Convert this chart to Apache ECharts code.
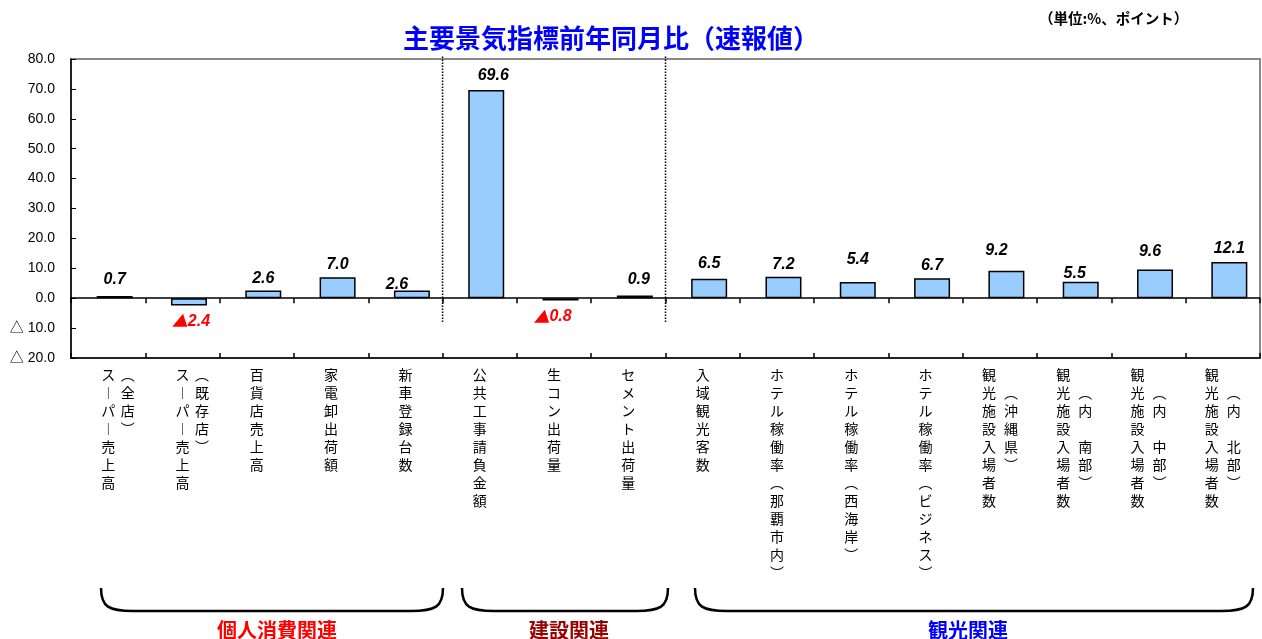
<!DOCTYPE html>
<html><head><meta charset="utf-8">
<script src="https://cdn.jsdelivr.net/npm/echarts@6/dist/echarts.min.js"></script>
<style>html,body{margin:0;padding:0;background:#fff}#c{width:1262px;height:639px}</style>
</head><body><div id="c"></div>
<script>
// ---------- data ----------
const categories = ['スーパー売上高（全店）','スーパー売上高（既存店）','百貨店売上高','家電卸出荷額','新車登録台数','公共工事請負金額','生コン出荷量','セメント出荷量','入域観光客数','ホテル稼働率（那覇市内）','ホテル稼働率（西海岸）','ホテル稼働率（ビジネス）','観光施設入場者数（沖縄県）','観光施設入場者数（内南部）','観光施設入場者数（内中部）','観光施設入場者数（内北部）'];
const mainLabels = ['スーパー売上高','スーパー売上高','百貨店売上高','家電卸出荷額','新車登録台数','公共工事請負金額','生コン出荷量','セメント出荷量','入域観光客数','ホテル稼働率（那覇市内）','ホテル稼働率（西海岸）','ホテル稼働率（ビジネス）','観光施設入場者数','観光施設入場者数','観光施設入場者数','観光施設入場者数'];
const subLabels = ['（全店）','（既存店）','','','','','','','','','','','（沖縄県）','（内　南部）','（内　中部）','（内　北部）'];
const values = [0.7, -2.4, 2.6, 7.0, 2.6, 69.6, -0.8, 0.9, 6.5, 7.2, 5.4, 6.7, 9.2, 5.5, 9.6, 12.1];
const groupNames = ['個人消費関連','建設関連','観光関連'];
const dividerAt = [5, 8];
const titleText = '主要景気指標前年同月比（速報値）';
const unitText = '（単位:%、ポイント）';
const yMin = -20, yMax = 80, yInterval = 10;

// ---------- layout / style (not data) ----------
const CJK = '"Noto Sans CJK JP", sans-serif';
const NUM = '"Liberation Sans", Arial, "Noto Sans CJK JP", sans-serif';
const mainStyle = ['m','m','m','m','m','m','m','m','m','m','m','m','mL','mL','mL','mL'];
const subStyle  = ['sW','sW','sW','sW','sW','sW','sW','sW','sW','sW','sW','sW','sN','sN','sN','sN'];
const subLead   = [0,0,0,0,0,0,0,0,0,0,0,0,1,1,1,1];
const labelNudge = [[0,-3],[2,2],[0,2],[0,1],[-15,8],[7,-1],[-8,2],[4,-1.5],[0,-1],[0,2],[0,-8],[0,1],[-10,-6],[-6,6],[-5,-4],[0,1]];
const groupColors = ['#FF0000','#990000','#0000FF'];
const brackets = [[101,443],[462,668],[695,1253]];
const groupX = [277,569,968];

const vmap = {'ー':'︱','（':'︵','）':'︶'};
function toRows(s){ return Array.from(s).map(c => vmap[c] || c); }
function richCol(s, style, lead){
  const rows = [];
  for (let i=0;i<lead;i++) rows.push('　');
  toRows(s).forEach(c => rows.push(c));
  return rows.map(c => '{' + style + '|' + c + '}').join('\n');
}
const base = {fontSize:14, lineHeight:18, fontFamily:CJK, color:'#000'};
const rich = {
  m: Object.assign({}, base),
  mL: Object.assign({}, base, {padding:[0,22,0,0]}),
  sW: Object.assign({}, base, {padding:[0,0,0,39]}),
  sN: Object.assign({}, base, {padding:[0,0,0,22]})
};

const chart = echarts.init(document.getElementById('c'), null, {renderer:'canvas'});

function bracketEls(){
  const els = [];
  const top = 588, bot = 611, r = 32;
  brackets.forEach(([L,R]) => {
    const ls = {stroke:'#000', lineWidth:2.5, fill:null};
    els.push({type:'bezierCurve', shape:{x1:L,y1:top,cpx1:L,cpy1:bot-4,cpx2:L+8,cpy2:bot,x2:L+r,y2:bot}, style:ls, silent:true});
    els.push({type:'line', shape:{x1:L+r,y1:bot,x2:R-r,y2:bot}, style:ls, silent:true});
    els.push({type:'bezierCurve', shape:{x1:R-r,y1:bot,cpx1:R-8,cpy1:bot,cpx2:R,cpy2:bot-4,x2:R,y2:top}, style:ls, silent:true});
  });
  groupNames.forEach((g,i) => {
    els.push({type:'text', x:groupX[i], y:630, style:{text:g, fill:groupColors[i], font:'bold 20px ' + CJK, textAlign:'center', textVerticalAlign:'middle'}, silent:true});
  });
  els.push({type:'text', x:1039, y:18, style:{text:unitText, fill:'#000', font:'bold 14.5px ' + CJK, textAlign:'left', textVerticalAlign:'middle'}, silent:true});
  return els;
}

const catAxisBase = {type:'category', data:categories, position:'bottom', gridIndex:0};

const option = {
  animation:false,
  backgroundColor:'#fff',
  title:{text:titleText, left:398, top:20, textStyle:{color:'#0000FF', fontSize:26, fontWeight:'bold', fontFamily:CJK}},
  grid:{left:71, right:2, top:59, bottom:281, show:true, borderColor:'#888', borderWidth:2, containLabel:false},
  xAxis:[
    Object.assign({}, catAxisBase, {axisLine:{show:false, onZero:false}, axisTick:{show:false},
      axisLabel:{interval:0, margin:8, formatter:(v,i)=>richCol(mainLabels[i], mainStyle[i], 0), rich:rich}}),
    Object.assign({}, catAxisBase, {axisLine:{show:false, onZero:false}, axisTick:{show:false},
      axisLabel:{interval:0, margin:8, formatter:(v,i)=> subLabels[i] ? richCol(subLabels[i], subStyle[i], subLead[i]) : '', rich:rich}}),
    Object.assign({}, catAxisBase, {axisLine:{show:true, onZero:true, lineStyle:{color:'#000', width:1.5}},
      axisTick:{show:true, inside:false, length:5, interval:0, lineStyle:{color:'#000', width:1.5}}, axisLabel:{show:false}}),
    Object.assign({}, catAxisBase, {axisLine:{show:true, onZero:true, lineStyle:{color:'#000', width:1.5}},
      axisTick:{show:true, inside:true, length:5, interval:0, lineStyle:{color:'#000', width:1.5}}, axisLabel:{show:false}}),
    {type:'value', min:0, max:categories.length, show:false, gridIndex:0}
  ],
  yAxis:{type:'value', min:yMin, max:yMax, interval:yInterval,
    axisLine:{show:true, lineStyle:{color:'#000', width:1.5}},
    axisTick:{show:true, inside:true, length:5, lineStyle:{color:'#000'}},
    splitLine:{show:false},
    axisLabel:{margin:16, fontSize:14, color:'#000', fontFamily:NUM,
      formatter:v => v < 0 ? '△ ' + Math.abs(v).toFixed(1) : v.toFixed(1)}},
  series:[
    {name:'spacer', type:'bar', xAxisIndex:0, barWidth:13, barGap:'0%', data:categories.map(()=>null), silent:true},
    {name:'前年同月比', type:'bar', xAxisIndex:0, barWidth:36, barGap:'0%',
      itemStyle:{color:'#99CCFF', borderColor:'#000', borderWidth:1.5},
      label:{show:true, distance:6, fontSize:16, fontStyle:'italic', fontWeight:'bold', fontFamily:NUM,
        formatter:p => p.value < 0 ? '{t|▲}' + Math.abs(p.value).toFixed(1) : p.value.toFixed(1),
        rich:{t:{fontFamily:CJK, fontSize:16, color:'#FF0000', fontWeight:'bold'}}},
      data:values.map((v,i)=>({value:v, label:{position: v<0?'bottom':'top', offset:labelNudge[i], color: v<0?'#FF0000':'#000'}}))}
  ].concat(dividerAt.map(d => ({
      name:'divider', type:'line', xAxisIndex:4, clip:false, silent:true, symbol:'none',
      lineStyle:{color:'#000', type:[1.5,1.5], width:1.5},
      data:[[d, 80.8],[d, -8]]
  }))),
  graphic:bracketEls()
};
chart.setOption(option);
</script>
</body></html>
